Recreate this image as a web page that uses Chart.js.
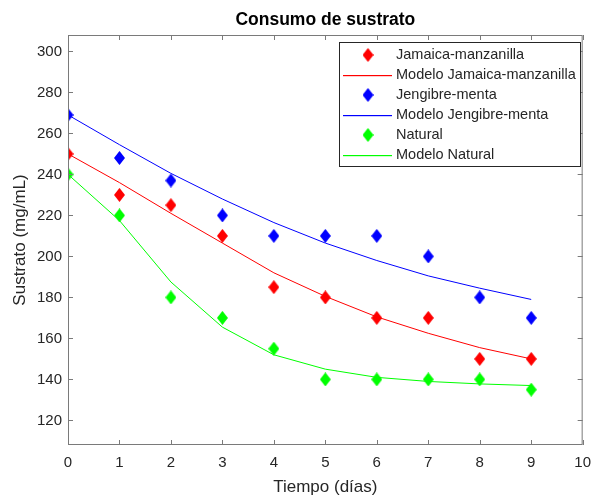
<!DOCTYPE html>
<html>
<head>
<meta charset="utf-8">
<script src="https://cdn.jsdelivr.net/npm/chart.js@4"></script>
<style>
  html, body { margin: 0; padding: 0; background: #fff; }
  #wrap { width: 600px; height: 496px; }
</style>
</head>
<body>
<div id="wrap"><canvas id="chart" width="600" height="496"></canvas></div>
<script>
const days = [0, 1, 2, 3, 4, 5, 6, 7, 8, 9];
const jamaica = [250, 230, 225, 210, 185, 180, 170, 170, 150, 150];
const modeloJamaica = [250, 236, 221, 206.5, 192, 180.5, 170.5, 162.5, 155.5, 150];
const jengibre = [269, 248, 237, 220, 210, 210, 210, 200, 180, 170];
const modeloJengibre = [269, 254.5, 240.5, 228, 216.5, 206.5, 198, 190.5, 184.5, 179];
const natural = [240, 220, 180, 170, 155, 140, 140, 140, 140, 135];
const modeloNatural = [240, 217.5, 187.5, 165.5, 152, 145, 141, 139, 137.8, 137];
const xTicks = [0, 1, 2, 3, 4, 5, 6, 7, 8, 9, 10];
const yTicks = [120, 140, 160, 180, 200, 220, 240, 260, 280, 300];

const FONT = 'Liberation Sans, Arial, Helvetica, sans-serif';
const AXIS = '#7a7a7a';
const TEXT = '#262626';

function diamond(color){
  const c = document.createElement('canvas');
  c.width = 11; c.height = 14;
  const g = c.getContext('2d');
  g.fillStyle = color;
  g.beginPath();
  g.moveTo(5.5, 0); g.lineTo(11, 7); g.lineTo(5.5, 14); g.lineTo(0, 7);
  g.closePath(); g.fill();
  return c;
}

function pts(ys){ return days.map((d, i) => ({x: d, y: ys[i]})); }

function markers(label, ys, color){
  return { type: 'scatter', label, data: pts(ys), pointStyle: diamond(color), swatch: color,
    pointRadius: 6, showLine: false, borderColor: color, backgroundColor: color, order: 1 };
}
function model(label, ys, color){
  return { type: 'line', label, data: pts(ys), swatch: color, borderColor: color, borderWidth: 1,
    pointRadius: 0, tension: 0, fill: false, order: 2 };
}

// title over the axes, box with inward ticks on all sides, and the legend
const matlabAxes = {
  id: 'matlabAxes',
  afterDraw(chart){
    const {ctx, chartArea: a, scales: {x, y}} = chart;
    ctx.save();
    ctx.fillStyle = '#000';
    ctx.font = 'bold 17.5px ' + FONT;
    ctx.textAlign = 'center';
    ctx.textBaseline = 'middle';
    ctx.fillText('Consumo de sustrato', (a.left + a.right) / 2, 20);

    ctx.strokeStyle = AXIS;
    ctx.lineWidth = 1;
    ctx.strokeRect(a.left + 0.5, a.top + 0.5, a.right - a.left - 1, a.bottom - a.top - 1);
    ctx.beginPath();
    xTicks.forEach(v => {
      const px = Math.round(x.getPixelForValue(v)) + 0.5;
      ctx.moveTo(px, a.bottom); ctx.lineTo(px, a.bottom - 5);
      ctx.moveTo(px, a.top); ctx.lineTo(px, a.top + 5);
    });
    yTicks.forEach(v => {
      const py = Math.round(y.getPixelForValue(v)) + 0.5;
      ctx.moveTo(a.left, py); ctx.lineTo(a.left + 5, py);
      ctx.moveTo(a.right, py); ctx.lineTo(a.right - 5, py);
    });
    ctx.stroke();

    // legend
    const bx = 339, by = 42, bw = 241, bh = 124, row = 20;
    ctx.fillStyle = '#fff';
    ctx.fillRect(bx, by, bw, bh);
    ctx.strokeStyle = '#262626';
    ctx.strokeRect(bx + 0.5, by + 0.5, bw, bh);
    ctx.font = '14.5px ' + FONT;
    ctx.textAlign = 'left';
    ctx.textBaseline = 'middle';
    chart.data.datasets.forEach((ds, i) => {
      const cy = by + 13 + i * row;
      if (ds.type === 'scatter') {
        const img = ds.pointStyle;
        ctx.drawImage(img, 368 - img.width / 2, cy - img.height / 2);
      } else {
        ctx.fillStyle = ds.swatch;
        ctx.fillRect(343, Math.round(cy), 49, 1.2);
      }
      ctx.fillStyle = TEXT;
      ctx.fillText(ds.label, 396, cy);
    });
    ctx.restore();
  }
};

new Chart(document.getElementById('chart'), {
  data: {
    datasets: [
      markers('Jamaica-manzanilla', jamaica, '#ff0000'),
      model('Modelo Jamaica-manzanilla', modeloJamaica, '#ff0000'),
      markers('Jengibre-menta', jengibre, '#0000ff'),
      model('Modelo Jengibre-menta', modeloJengibre, '#0000ff'),
      markers('Natural', natural, '#00ff00'),
      model('Modelo Natural', modeloNatural, '#00ff00')
    ]
  },
  options: {
    responsive: false,
    animation: false,
    layout: { padding: { left: 0, right: 11, top: 35, bottom: 0 } },
    plugins: {
      legend: { display: false },
      tooltip: { enabled: false },
      title: { display: false }
    },
    scales: {
      x: {
        type: 'linear', min: 0, max: 10,
        afterBuildTicks: s => { s.ticks = xTicks.map(v => ({value: v})); },
        afterFit: s => { s.height = 51; },
        grid: { display: false, drawTicks: false },
        border: { display: false },
        ticks: { color: TEXT, padding: 9, font: { family: FONT, size: 15 } },
        title: { display: true, text: 'Tiempo (días)', color: TEXT,
          font: { family: FONT, size: 17 }, padding: { top: 0, bottom: -2 } }
      },
      y: {
        type: 'linear', min: 108, max: 308,
        afterBuildTicks: s => { s.ticks = yTicks.map(v => ({value: v})); },
        afterFit: s => { s.width = 68; },
        grid: { display: false, drawTicks: false },
        border: { display: false },
        ticks: { color: TEXT, padding: 6, font: { family: FONT, size: 15 } },
        title: { display: true, text: 'Sustrato (mg/mL)', color: TEXT,
          font: { family: FONT, size: 17 }, padding: { top: 10, bottom: 0 } }
      }
    }
  },
  plugins: [matlabAxes]
});
</script>
</body>
</html>
